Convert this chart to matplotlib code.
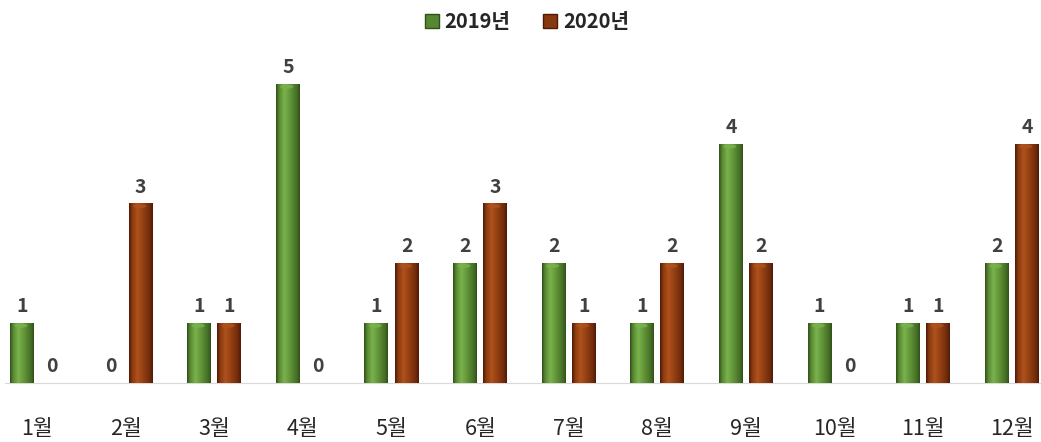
import numpy as np
import matplotlib.pyplot as plt
from matplotlib.patches import Patch, Ellipse

plt.rcParams['font.family'] = ['Noto Sans CJK KR', 'DejaVu Sans']

months = ['1월', '2월', '3월', '4월', '5월', '6월', '7월', '8월', '9월', '10월', '11월', '12월']
y2019 = [1, 0, 1, 5, 1, 2, 2, 1, 4, 1, 1, 2]
y2020 = [0, 3, 1, 0, 2, 3, 1, 2, 2, 0, 1, 4]
series_names = ['2019년', '2020년']

green = {'dark': (0.19, 0.31, 0.10), 'mid': (0.34, 0.53, 0.19), 'light': (0.48, 0.70, 0.30)}
brown = {'dark': (0.31, 0.10, 0.02), 'mid': (0.53, 0.22, 0.06), 'light': (0.69, 0.32, 0.11)}


def gradient(c):
    t = np.linspace(0, 1, 64)
    # bevel profile: dark edges, light around 35%
    prof = np.interp(t, [0, 0.12, 0.35, 0.7, 0.9, 1], [0, 0.6, 1, 0.6, 0.3, 0])
    d = np.array(c['dark'])
    m = np.array(c['mid'])
    l = np.array(c['light'])
    img = np.zeros((1, 64, 3))
    for i, p in enumerate(prof):
        if p < 0.6:
            img[0, i] = d + (m - d) * (p / 0.6)
        else:
            img[0, i] = m + (l - m) * ((p - 0.6) / 0.4)
    return img


fig = plt.figure(figsize=(10.41, 4.42), dpi=100)
ax = fig.add_axes([0.005, 0.1335, 0.995, 0.757])

x = np.arange(len(months))
w = 0.27
off = 0.17
text_col = '#404040'

for vals, shift, c in [(y2019, -off, green), (y2020, off, brown)]:
    img = gradient(c)
    bars = ax.bar(x + shift, vals, w, color=c['mid'], zorder=2)
    for b, v in zip(bars, vals):
        if v > 0:
            x0 = b.get_x()
            ax.imshow(img, extent=[x0, x0 + w, 0, v], aspect='auto', zorder=3,
                      interpolation='bilinear')
            ax.add_patch(Ellipse((x0 + w * 0.45, v - 0.04), w * 0.55, 0.07,
                                 color=c['light'], alpha=0.8, zorder=4, lw=0))
        ax.text(b.get_x() + w / 2, v + 0.12, str(v), ha='center', va='bottom',
                fontsize=14, fontweight='bold', color=text_col)

ax.set_xlim(-0.36, 11.33)
ax.set_ylim(0, 5.6)
ax.set_xticks(x)
ax.set_xticklabels(months, fontsize=15.5, color='#262626')
ax.tick_params(axis='x', length=0, pad=25)
ax.set_yticks([])
for s in ['top', 'right', 'left']:
    ax.spines[s].set_visible(False)
ax.spines['bottom'].set_color('#d9d9d9')

handles = [Patch(facecolor=green['mid'], edgecolor=green['dark']),
           Patch(facecolor=brown['mid'], edgecolor=brown['dark'])]
leg = fig.legend(handles, series_names, loc='upper center', bbox_to_anchor=(0.506, 1.015),
                 ncol=2, frameon=False, handlelength=0.7, handleheight=0.7,
                 handletextpad=0.3, columnspacing=1.6,
                 prop={'size': 14.5, 'weight': 'bold'})
for t in leg.get_texts():
    t.set_color('#262626')

fig.savefig('out.png', dpi=100)
